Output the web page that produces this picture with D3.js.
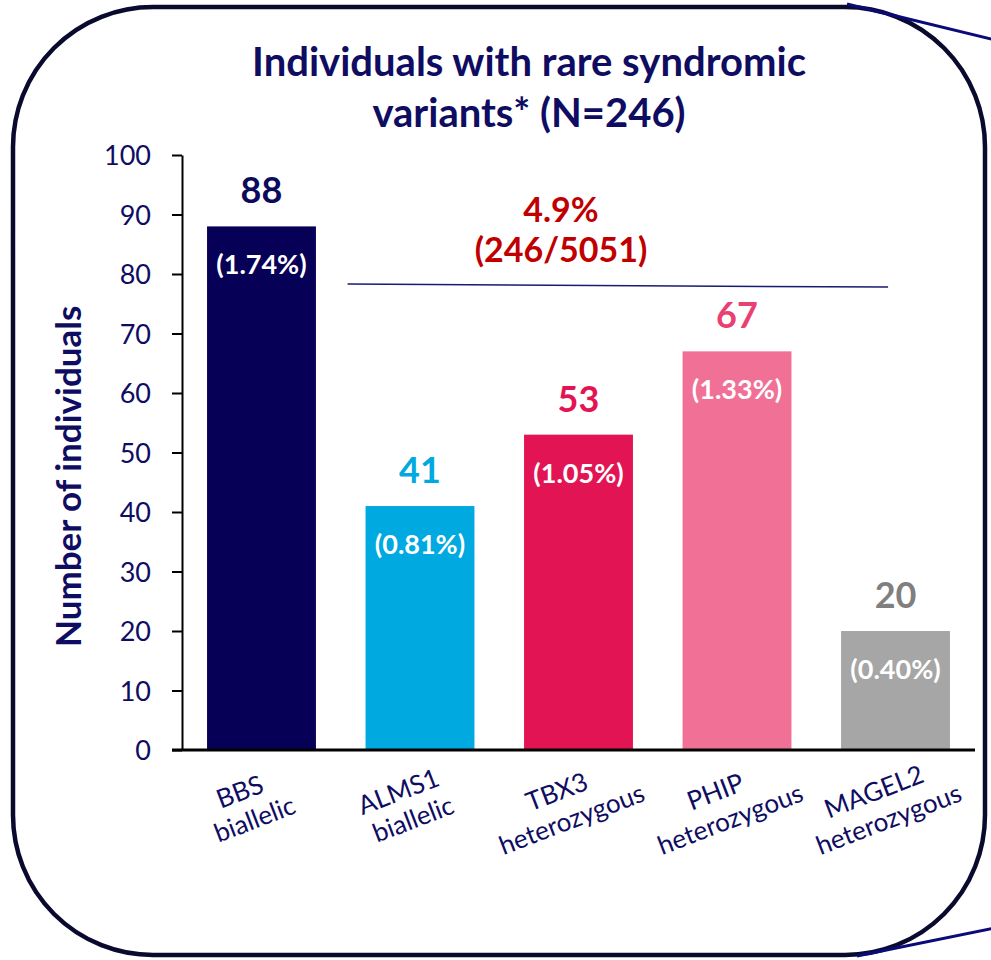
<!DOCTYPE html>
<html>
<head>
<meta charset="utf-8">
<script src="https://cdn.jsdelivr.net/npm/d3@7/dist/d3.min.js"></script>
<style>
  html, body { margin: 0; padding: 0; background: #ffffff; }
  svg { display: block; }
  text { font-family: Lato, "Open Sans", sans-serif; }
</style>
</head>
<body>
<svg id="chart" width="991" height="960"></svg>
<script>
// Carriers of rare syndromic variants, by gene and zygosity
const geneNames = ["BBS", "ALMS1", "TBX3", "PHIP", "MAGEL2"];
const zygosity = ["biallelic", "biallelic", "heterozygous", "heterozygous", "heterozygous"];
const counts = [88, 41, 53, 67, 20];
const percentLabels = ["(1.74%)", "(0.81%)", "(1.05%)", "(1.33%)", "(0.40%)"];
const yTicks = [0, 10, 20, 30, 40, 50, 60, 70, 80, 90, 100];
const totalLines = ["4.9%", "(246/5051)"];
const titleLines = ["Individuals with rare syndromic", "variants* (N=246)"];

const barColors = ["#060057", "#00a9e0", "#e31453", "#f07096", "#a6a6a6"];
const valueColors = ["#0c0a5a", "#00a9e0", "#e31453", "#ea3f72", "#7f7f7f"];
const navy = "#0f0d62";

const svg = d3.select("#chart");

// rounded frame and callout lines
svg.append("rect")
  .attr("x", 13).attr("y", 7).attr("width", 972).attr("height", 948)
  .attr("rx", 140).attr("ry", 140)
  .attr("fill", "none").attr("stroke", "#0a0a2e").attr("stroke-width", 4.5);
svg.append("line").attr("x1", 847).attr("y1", 4).attr("x2", 995).attr("y2", 40)
  .attr("stroke", "#0a0a7a").attr("stroke-width", 3);
svg.append("line").attr("x1", 857).attr("y1", 956).attr("x2", 995).attr("y2", 928)
  .attr("stroke", "#0a0a7a").attr("stroke-width", 3);

// scales
const x = d3.scaleBand()
  .domain(geneNames)
  .range([182, 975])
  .paddingInner(0.313)
  .paddingOuter(0.158);
const y = d3.scaleLinear().domain([0, 100]).range([750, 155]);

// title
svg.append("text")
  .attr("x", 529).attr("y", 76)
  .attr("text-anchor", "middle")
  .attr("fill", navy)
  .attr("font-weight", 700)
  .attr("font-size", 40)
  .selectAll("tspan").data(titleLines).join("tspan")
  .attr("x", 529).attr("dy", (d, i) => i === 0 ? 0 : 51)
  .text(d => d);

// y axis
const yAxis = svg.append("g")
  .attr("transform", `translate(${x.range()[0]},0)`)
  .call(d3.axisLeft(y).tickValues(yTicks).tickSize(10).tickPadding(21).tickSizeOuter(0));
yAxis.select(".domain").attr("stroke", "#000").attr("stroke-width", 2);
yAxis.selectAll(".tick line").attr("stroke", "#000").attr("stroke-width", 2);
yAxis.selectAll(".tick text")
  .attr("fill", navy).attr("font-size", 27).attr("font-family", "Lato, sans-serif")
  .attr("dy", "0.36em");

// y axis title
svg.append("text")
  .attr("transform", `translate(81, ${y(46)}) rotate(-90)`)
  .attr("text-anchor", "middle")
  .attr("fill", navy)
  .attr("font-weight", 700)
  .attr("font-size", 35)
  .text("Number of individuals");

// bars
const rows = geneNames.map((g, i) => ({
  gene: g, zyg: zygosity[i], n: counts[i], pct: percentLabels[i],
  color: barColors[i], vcolor: valueColors[i]
}));

svg.append("g").selectAll("rect").data(rows).join("rect")
  .attr("x", d => x(d.gene))
  .attr("y", d => y(d.n))
  .attr("width", x.bandwidth())
  .attr("height", d => y(0) - y(d.n))
  .attr("fill", d => d.color);

// value labels above bars
svg.append("g").selectAll("text").data(rows).join("text")
  .attr("x", d => x(d.gene) + x.bandwidth() / 2)
  .attr("y", d => y(d.n) - 23)
  .attr("text-anchor", "middle")
  .attr("fill", d => d.vcolor)
  .attr("font-weight", 700)
  .attr("font-size", 36)
  .text(d => d.n);

// percentage labels inside bars
svg.append("g").selectAll("text").data(rows).join("text")
  .attr("x", d => x(d.gene) + x.bandwidth() / 2)
  .attr("y", d => y(d.n) + 48)
  .attr("text-anchor", "middle")
  .attr("fill", "#ffffff")
  .attr("font-weight", 700)
  .attr("font-size", 27)
  .text(d => d.pct);

// x baseline
svg.append("line")
  .attr("x1", x.range()[0] - 10).attr("x2", x.range()[1])
  .attr("y1", y(0)).attr("y2", y(0))
  .attr("stroke", "#000").attr("stroke-width", 3);

// rotated category labels
const catLabels = svg.append("g").selectAll("text").data(rows).join("text")
  .attr("transform", d => `translate(${x(d.gene) + x.bandwidth() / 2 - 14}, 806) rotate(-21)`)
  .attr("text-anchor", "middle")
  .attr("fill", navy)
  .attr("font-size", 26);
catLabels.append("tspan").attr("x", -2).attr("y", -7).text(d => d.gene);
catLabels.append("tspan").attr("x", 2).attr("y", 24).text(d => d.zyg);

// overall prevalence annotation
const ann = svg.append("g");
ann.append("text")
  .attr("x", 561).attr("y", 222)
  .attr("text-anchor", "middle")
  .attr("fill", "#c00000")
  .attr("font-weight", 700)
  .attr("font-size", 34)
  .selectAll("tspan").data(totalLines).join("tspan")
  .attr("x", 561).attr("dy", (d, i) => i === 0 ? 0 : 40)
  .text(d => d);
ann.append("line")
  .attr("x1", x(geneNames[1]) - 18).attr("y1", y(78.3))
  .attr("x2", x(geneNames[4]) + 47).attr("y2", y(77.8))
  .attr("stroke", "#1a1a70").attr("stroke-width", 1.5);
</script>
</body>
</html>
